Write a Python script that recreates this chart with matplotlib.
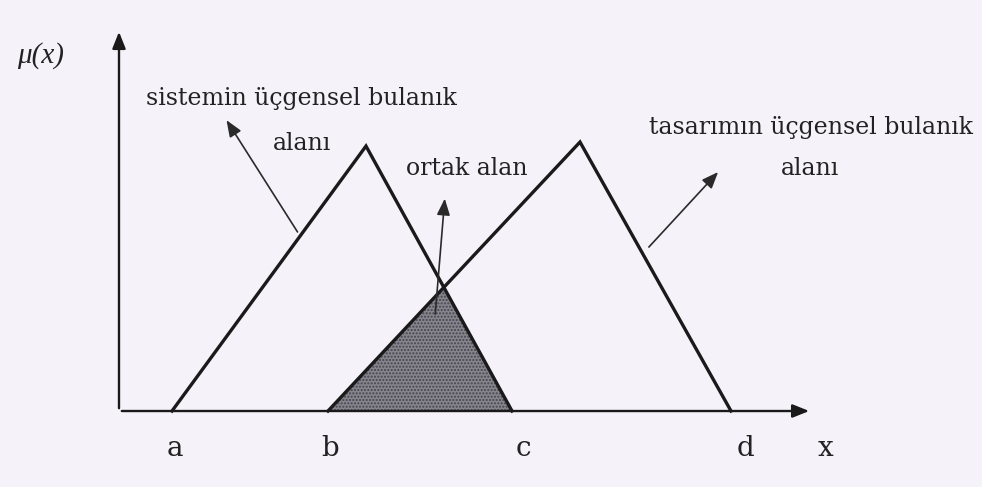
import numpy as np
import matplotlib.pyplot as plt

# triangle membership functions (x positions, peak heights)
sys_x = [0.53, 2.47, 3.93]      # a, peak, c
sys_mu = [0.0, 0.985, 0.0]
des_x = [2.09, 4.61, 6.12]      # b, peak, d
des_mu = [0.0, 1.0, 0.0]

tick_names = ['a', 'b', 'c', 'd']
tick_pos = [0.56, 2.11, 4.04, 6.26]

bg = '#f5f2fa'

fig = plt.figure(figsize=(9.82, 4.87), dpi=100)
fig.patch.set_facecolor(bg)
ax = fig.add_axes([0, 0, 1, 1])
ax.set_facecolor(bg)
ax.set_xlim(-1.19, 8.63)
ax.set_ylim(-0.2825, 1.528)
ax.axis('off')

# shared area = min of the two triangles
xs = np.linspace(des_x[0], sys_x[2], 400)
common = np.minimum(np.interp(xs, sys_x, sys_mu), np.interp(xs, des_x, des_mu))
ax.fill_between(xs, 0, common, facecolor='#86848c', edgecolor='#45454d',
                hatch='.....', linewidth=0)

ax.plot(sys_x, sys_mu, color='#1a1a1a', lw=2.4, solid_joinstyle='miter')
ax.plot(des_x, des_mu, color='#1a1a1a', lw=2.4, solid_joinstyle='miter')

# axes with arrow heads
ax.annotate('', xy=(6.93, 0), xytext=(0, 0),
            arrowprops=dict(arrowstyle='-|>,head_length=1.0,head_width=0.4',
                            color='#1a1a1a', lw=1.7))
ax.annotate('', xy=(0, 1.42), xytext=(0, 0),
            arrowprops=dict(arrowstyle='-|>,head_length=1.0,head_width=0.4',
                            color='#1a1a1a', lw=1.7))

for name, p in zip(tick_names, tick_pos):
    ax.text(p, -0.14, name, ha='center', va='center', fontsize=20,
            family='DejaVu Serif', color='#222222')
ax.text(7.07, -0.14, 'x', ha='center', va='center', fontsize=20,
        family='DejaVu Serif', color='#222222')
ax.text(-0.78, 1.323, 'μ(x)', ha='center', va='center', fontsize=21,
        family='Liberation Serif', style='italic', color='#222222')

txt = dict(ha='center', va='center', fontsize=17,
           family='DejaVu Serif', color='#222222')
ax.text(1.82, 1.16, 'sistemin üçgensel bulanık', **txt)
ax.text(1.83, 0.995, 'alanı', **txt)
ax.text(3.48, 0.90, 'ortak alan', **txt)
ax.text(6.92, 1.054, 'tasarımın üçgensel bulanık', **txt)
ax.text(6.91, 0.90, 'alanı', **txt)

arr = dict(arrowstyle='-|>,head_length=1.0,head_width=0.4', color='#2a2a2a', lw=1.2)
ax.annotate('', xy=(1.06, 1.09), xytext=(1.80, 0.657), arrowprops=arr)
ax.annotate('', xy=(3.26, 0.80), xytext=(3.16, 0.35), arrowprops=arr)
ax.annotate('', xy=(6.01, 0.896), xytext=(5.28, 0.602), arrowprops=arr)

fig.savefig('out.png', dpi=100, facecolor=bg)
